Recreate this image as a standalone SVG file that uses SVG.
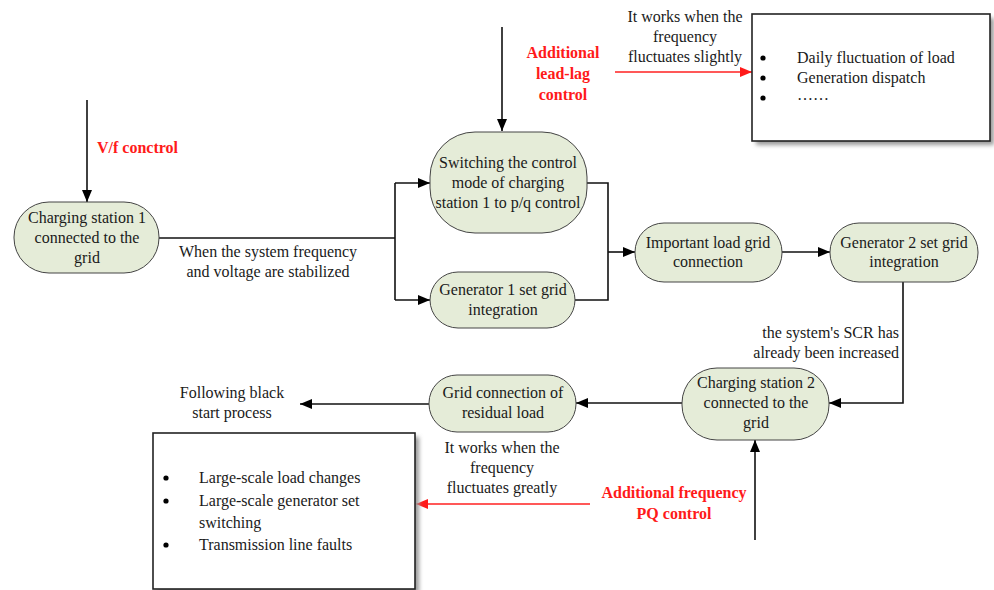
<svg xmlns="http://www.w3.org/2000/svg" width="994" height="590" viewBox="0 0 994 590">
<defs>
<style>
text{font-family:"Liberation Serif","Times New Roman",serif;font-size:16px;fill:#1a1a1a}
.c{text-anchor:middle}
.r{text-anchor:end}
.red{fill:#ff1a1a;font-weight:bold}
.node{fill:#e5ecd8;stroke:#444;stroke-width:1}
.ln{fill:none;stroke:#111;stroke-width:1.6}
.rl{fill:none;stroke:#ff2020;stroke-width:1.6}
.box{fill:#fff;stroke:#222;stroke-width:1.6}
.shadow{fill:#9a9a9a;filter:url(#blur)}
</style>
<marker id="ah" viewBox="0 0 12 10" refX="12" refY="5" markerWidth="12" markerHeight="10" markerUnits="userSpaceOnUse" orient="auto"><path d="M0,0 L12,5 L0,10 Z" fill="#000"/></marker>
<marker id="ahr" viewBox="0 0 12 10" refX="12" refY="5" markerWidth="12" markerHeight="10" markerUnits="userSpaceOnUse" orient="auto"><path d="M0,0 L12,5 L0,10 Z" fill="#ff1a1a"/></marker>
<filter id="blur" x="-10%" y="-10%" width="120%" height="120%"><feGaussianBlur stdDeviation="2"/></filter>
</defs>

<g id="connectors">
<line class="ln" x1="87" y1="100" x2="87" y2="202" marker-end="url(#ah)"/>
<polyline class="ln" points="159,238 395,238"/>
<polyline class="ln" points="395,183 395,300"/>
<line class="ln" x1="395" y1="183" x2="430" y2="183" marker-end="url(#ah)"/>
<line class="ln" x1="395" y1="300" x2="430" y2="300" marker-end="url(#ah)"/>
<line class="ln" x1="502" y1="27" x2="502" y2="131" marker-end="url(#ah)"/>
<polyline class="ln" points="587,183 608,183 608,300 575,300"/>
<line class="ln" x1="608" y1="252" x2="635" y2="252" marker-end="url(#ah)"/>
<line class="ln" x1="782" y1="252" x2="830" y2="252" marker-end="url(#ah)"/>
<polyline class="ln" points="903,282 903,403 829,403" marker-end="url(#ah)"/>
<line class="ln" x1="755" y1="540" x2="755" y2="440" marker-end="url(#ah)"/>
<line class="ln" x1="682" y1="403" x2="576" y2="403" marker-end="url(#ah)"/>
<line class="ln" x1="429" y1="404" x2="300" y2="404" marker-end="url(#ah)"/>
<line class="rl" x1="615" y1="72" x2="752" y2="72" marker-end="url(#ahr)"/>
<line class="rl" x1="590" y1="504" x2="416" y2="504" marker-end="url(#ahr)"/>
</g>

<g id="node-cs1">
<rect class="node" x="14" y="202" width="145" height="71" rx="35" ry="35"/>
<text class="c" x="87" y="223">Charging station 1</text>
<text class="c" x="87" y="243">connected to the</text>
<text class="c" x="87" y="263">grid</text>
</g>

<g id="node-switch">
<rect class="node" x="430" y="132" width="157" height="101" rx="45" ry="45"/>
<text class="c" x="508" y="168">Switching the control</text>
<text class="c" x="508" y="188">mode of charging</text>
<text class="c" x="508" y="208">station 1 to p/q control</text>
</g>

<g id="node-gen1">
<rect class="node" x="430" y="272" width="145" height="56" rx="28" ry="28"/>
<text class="c" x="503" y="295">Generator 1 set grid</text>
<text class="c" x="503" y="315">integration</text>
</g>

<g id="node-important">
<rect class="node" x="635" y="223" width="147" height="59" rx="29" ry="29"/>
<text class="c" x="708" y="248">Important load grid</text>
<text class="c" x="708" y="267">connection</text>
</g>

<g id="node-gen2">
<rect class="node" x="830" y="223" width="148" height="59" rx="29" ry="29"/>
<text class="c" x="904" y="248">Generator 2 set grid</text>
<text class="c" x="904" y="267">integration</text>
</g>

<g id="node-cs2">
<rect class="node" x="682" y="368" width="147" height="72" rx="35" ry="35"/>
<text class="c" x="756" y="388">Charging station 2</text>
<text class="c" x="756" y="408">connected to the</text>
<text class="c" x="756" y="428">grid</text>
</g>

<g id="node-residual">
<rect class="node" x="429" y="375" width="147" height="57" rx="28" ry="28"/>
<text class="c" x="503" y="398">Grid connection of</text>
<text class="c" x="503" y="418">residual load</text>
</g>

<g id="box-top">
<rect class="shadow" x="756" y="18" width="238" height="127"/>
<rect class="box" x="752" y="14" width="238" height="127"/>
<circle cx="763" cy="58" r="2.6" fill="#000"/>
<circle cx="763" cy="78" r="2.6" fill="#000"/>
<circle cx="763" cy="98" r="2.6" fill="#000"/>
<text x="797" y="63">Daily fluctuation of load</text>
<text x="797" y="83">Generation dispatch</text>
<text x="797" y="100">……</text>
</g>

<g id="box-bottom">
<rect class="shadow" x="157" y="437" width="262" height="156"/>
<rect class="box" x="153" y="433" width="262" height="156"/>
<circle cx="166" cy="478" r="2.6" fill="#000"/>
<circle cx="166" cy="501" r="2.6" fill="#000"/>
<circle cx="166" cy="545" r="2.6" fill="#000"/>
<text x="199" y="483">Large-scale load changes</text>
<text x="199" y="506">Large-scale generator set</text>
<text x="199" y="528">switching</text>
<text x="199" y="550">Transmission line faults</text>
</g>

<g id="labels">
<text class="red" x="97" y="153">V/f conctrol</text>
<text class="c" x="268" y="257">When the system frequency</text>
<text class="c" x="268" y="277">and voltage are stabilized</text>
<text class="red c" x="563" y="58">Additional</text>
<text class="red c" x="563" y="79">lead-lag</text>
<text class="red c" x="563" y="100">control</text>
<text class="c" x="685" y="22">It works when the</text>
<text class="c" x="685" y="42">frequency</text>
<text class="c" x="685" y="62">fluctuates slightly</text>
<text class="r" x="899" y="338">the system's SCR has</text>
<text class="r" x="899" y="358">already been increased</text>
<text class="c" x="232" y="398">Following black</text>
<text class="c" x="232" y="418">start process</text>
<text class="c" x="502" y="453">It works when the</text>
<text class="c" x="502" y="473">frequency</text>
<text class="c" x="502" y="493">fluctuates greatly</text>
<text class="red c" x="674" y="498">Additional frequency</text>
<text class="red c" x="674" y="519">PQ control</text>
</g>
</svg>
